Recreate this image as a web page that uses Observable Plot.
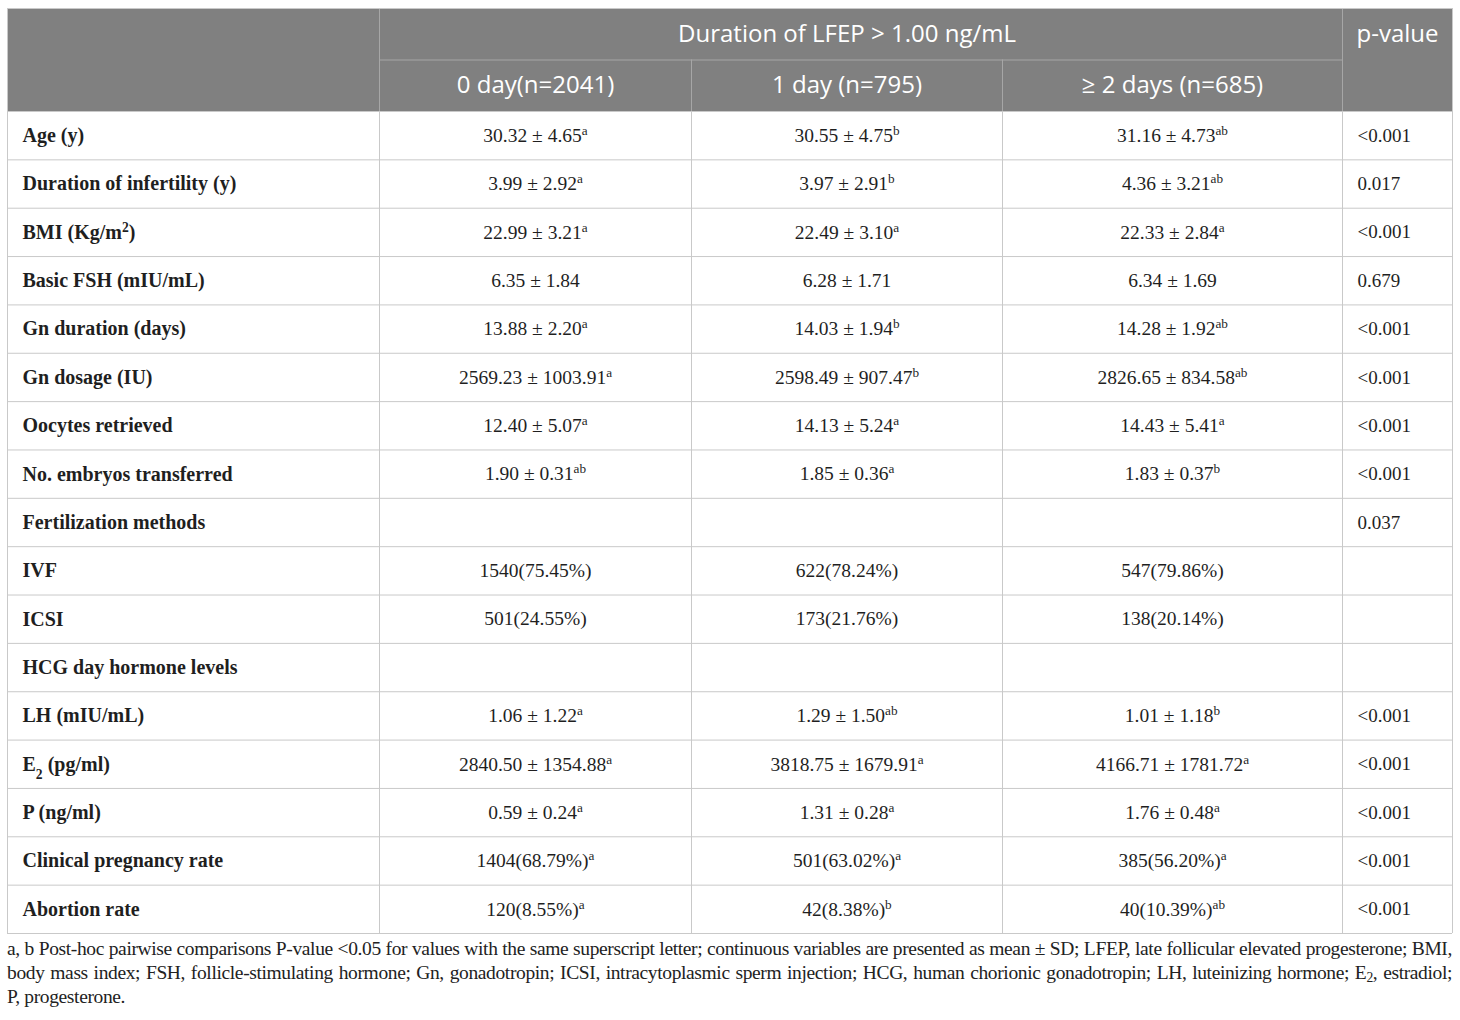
<!DOCTYPE html>
<html>
<head>
<meta charset="utf-8">
<script src="https://cdn.jsdelivr.net/npm/d3@7"></script>
<script src="https://cdn.jsdelivr.net/npm/@observablehq/plot@0.6"></script>
<style>
  html, body { margin: 0; padding: 0; background: #fff; }
  #chart svg { display: block; }
  #note { margin-left: 7px; width: 1445px; font-family: "Liberation Serif", serif; font-size: 19.5px; line-height: 24px; color: #222; }
  #note div { text-align: justify; text-align-last: justify; white-space: nowrap; }
  #note div.last { text-align-last: left; }
  #note sub { font-size: 70%; vertical-align: -3px; line-height: 0; }
</style>
</head>
<body>
<div id="chart"></div>
<div id="note">
  <div>a, b Post-hoc pairwise comparisons P-value &lt;0.05 for values with the same superscript letter; continuous variables are presented as mean ± SD; LFEP, late follicular elevated progesterone; BMI,</div>
  <div>body mass index; FSH, follicle-stimulating hormone; Gn, gonadotropin; ICSI, intracytoplasmic sperm injection; HCG, human chorionic gonadotropin; LH, luteinizing hormone; E<sub>2</sub>, estradiol;</div>
  <div class="last">P, progesterone.</div>
</div>
<script>
// ---- data ----
const groupHeader = "Duration of LFEP > 1.00 ng/mL";
const columnHeaders = ["0 day(n=2041)", "1 day (n=795)", "≥ 2 days (n=685)"];
const pHeader = "p-value";

const labels = ["Age (y)", "Duration of infertility (y)", "BMI (Kg/m^{2})", "Basic FSH (mIU/mL)", "Gn duration (days)", "Gn dosage (IU)", "Oocytes retrieved", "No. embryos transferred", "Fertilization methods", "IVF", "ICSI", "HCG day hormone levels", "LH (mIU/mL)", "E_{2} (pg/ml)", "P (ng/ml)", "Clinical pregnancy rate", "Abortion rate"];

const group0 = ["30.32 ± 4.65", "3.99 ± 2.92", "22.99 ± 3.21", "6.35 ± 1.84", "13.88 ± 2.20", "2569.23 ± 1003.91", "12.40 ± 5.07", "1.90 ± 0.31", "", "1540(75.45%)", "501(24.55%)", "", "1.06 ± 1.22", "2840.50 ± 1354.88", "0.59 ± 0.24", "1404(68.79%)", "120(8.55%)"];
const sup0 = ["a", "a", "a", "", "a", "a", "a", "ab", "", "", "", "", "a", "a", "a", "a", "a"];

const group1 = ["30.55 ± 4.75", "3.97 ± 2.91", "22.49 ± 3.10", "6.28 ± 1.71", "14.03 ± 1.94", "2598.49 ± 907.47", "14.13 ± 5.24", "1.85 ± 0.36", "", "622(78.24%)", "173(21.76%)", "", "1.29 ± 1.50", "3818.75 ± 1679.91", "1.31 ± 0.28", "501(63.02%)", "42(8.38%)"];
const sup1 = ["b", "b", "a", "", "b", "b", "a", "a", "", "", "", "", "ab", "a", "a", "a", "b"];

const group2 = ["31.16 ± 4.73", "4.36 ± 3.21", "22.33 ± 2.84", "6.34 ± 1.69", "14.28 ± 1.92", "2826.65 ± 834.58", "14.43 ± 5.41", "1.83 ± 0.37", "", "547(79.86%)", "138(20.14%)", "", "1.01 ± 1.18", "4166.71 ± 1781.72", "1.76 ± 0.48", "385(56.20%)", "40(10.39%)"];
const sup2 = ["ab", "ab", "a", "", "ab", "ab", "a", "b", "", "", "", "", "b", "a", "a", "a", "ab"];

const pValues = ["<0.001", "0.017", "<0.001", "0.679", "<0.001", "<0.001", "<0.001", "<0.001", "0.037", "", "", "", "<0.001", "<0.001", "<0.001", "<0.001", "<0.001"];

// ---- layout ----
const nRows = labels.length;
const gridColor = "#c9c9c9";
const headFill = "#808080";
const headLine = "#a6a6a6";
const textColor = "#1f1f1f";
const serif = "Liberation Serif";
const sans = "Open Sans";

const cells = [];
[[group0, sup0], [group1, sup1], [group2, sup2]].forEach(([vals, sups], c) => {
  vals.forEach((v, i) => {
    if (v) cells.push({col: c + 1.5, row: 2.5 + i, text: v + (sups[i] ? `^{${sups[i]}}` : "")});
  });
});
const rowLines = d3.range(2, nRows + 3);
const dataVLines = d3.range(0, 6);

const chart = Plot.plot({
  width: 1460,
  height: 937,
  margin: 0,
  x: {type: "linear", domain: [0, 1, 2, 3, 4, 5], range: [7, 379, 691, 1002, 1342, 1452], axis: null},
  y: {type: "linear", domain: [0, 1, 2, 2 + nRows], range: [8, 59.5, 111, 933], axis: null},
  marks: [
    Plot.rect([0], {x1: () => 0, x2: () => 5, y1: () => 0, y2: () => 2, fill: headFill}),
    Plot.ruleY([1], {y: d => d, x1: () => 1, x2: () => 4, stroke: headLine}),
    Plot.ruleX([1, 4], {x: d => d, y1: () => 0, y2: () => 2, stroke: headLine}),
    Plot.ruleX([2, 3], {x: d => d, y1: () => 1, y2: () => 2, stroke: headLine}),
    Plot.ruleY([0], {y: d => d, x1: () => 0, x2: () => 5, stroke: gridColor}),
    Plot.ruleX([0, 5], {x: d => d, y1: () => 0, y2: () => 2, stroke: gridColor}),
    Plot.ruleY(rowLines, {y: d => d, x1: () => 0, x2: () => 5, stroke: gridColor}),
    Plot.ruleX(dataVLines, {x: d => d, y1: () => 2, y2: () => 2 + nRows, stroke: gridColor}),
    Plot.text([groupHeader], {x: () => 2.5, y: () => 0.5, text: d => d, fill: "white", fontFamily: sans, fontSize: 24}),
    Plot.text([pHeader], {x: () => 4.5, y: () => 0.5, text: d => d, fill: "white", fontFamily: sans, fontSize: 24}),
    Plot.text(columnHeaders, {x: (d, i) => 1.5 + i, y: () => 1.5, text: d => d, fill: "white", fontFamily: sans, fontSize: 24}),
    Plot.text(labels, {x: () => 0, y: (d, i) => 2.5 + i, text: d => d, dx: 15, textAnchor: "start", fill: textColor, fontFamily: serif, fontWeight: "bold", fontSize: 20}),
    Plot.text(cells, {x: "col", y: "row", text: "text", fill: textColor, fontFamily: serif, fontSize: 19.5}),
    Plot.text(pValues, {x: () => 4, y: (d, i) => 2.5 + i, text: d => d, dx: 15, textAnchor: "start", fill: textColor, fontFamily: serif, fontSize: 19})
  ]
});

// super/subscript markup -> tspans
const NS = "http://www.w3.org/2000/svg";
chart.querySelectorAll("text").forEach(t => {
  const s = t.textContent;
  if (!/[\^_]\{/.test(s)) return;
  t.textContent = "";
  const re = /([\^_])\{([^}]*)\}/g;
  let last = 0, m;
  const add = (str, kind) => {
    if (!str) return;
    const ts = document.createElementNS(NS, "tspan");
    ts.textContent = str;
    if (kind) {
      ts.setAttribute("baseline-shift", kind === "^" ? "super" : "sub");
      ts.setAttribute("font-size", "68%");
    }
    t.appendChild(ts);
  };
  while ((m = re.exec(s))) {
    add(s.slice(last, m.index));
    add(m[2], m[1]);
    last = re.lastIndex;
  }
  add(s.slice(last));
});

document.getElementById("chart").appendChild(chart);

// footnote: keep the larger size and tighten letter spacing so the first line fits the table width
(function fitNote() {
  const note = document.getElementById("note");
  const first = note.querySelector("div");
  const probe = document.createElement("span");
  probe.style.whiteSpace = "nowrap";
  probe.innerHTML = first.innerHTML;
  note.appendChild(probe);
  const w = probe.getBoundingClientRect().width;
  note.removeChild(probe);
  const n = first.textContent.trim().length;
  const ls = Math.max(-1.5, Math.min(0.3, (1438 - w) / n));
  note.style.letterSpacing = ls.toFixed(3) + "px";
})();
</script>
</body>
</html>
